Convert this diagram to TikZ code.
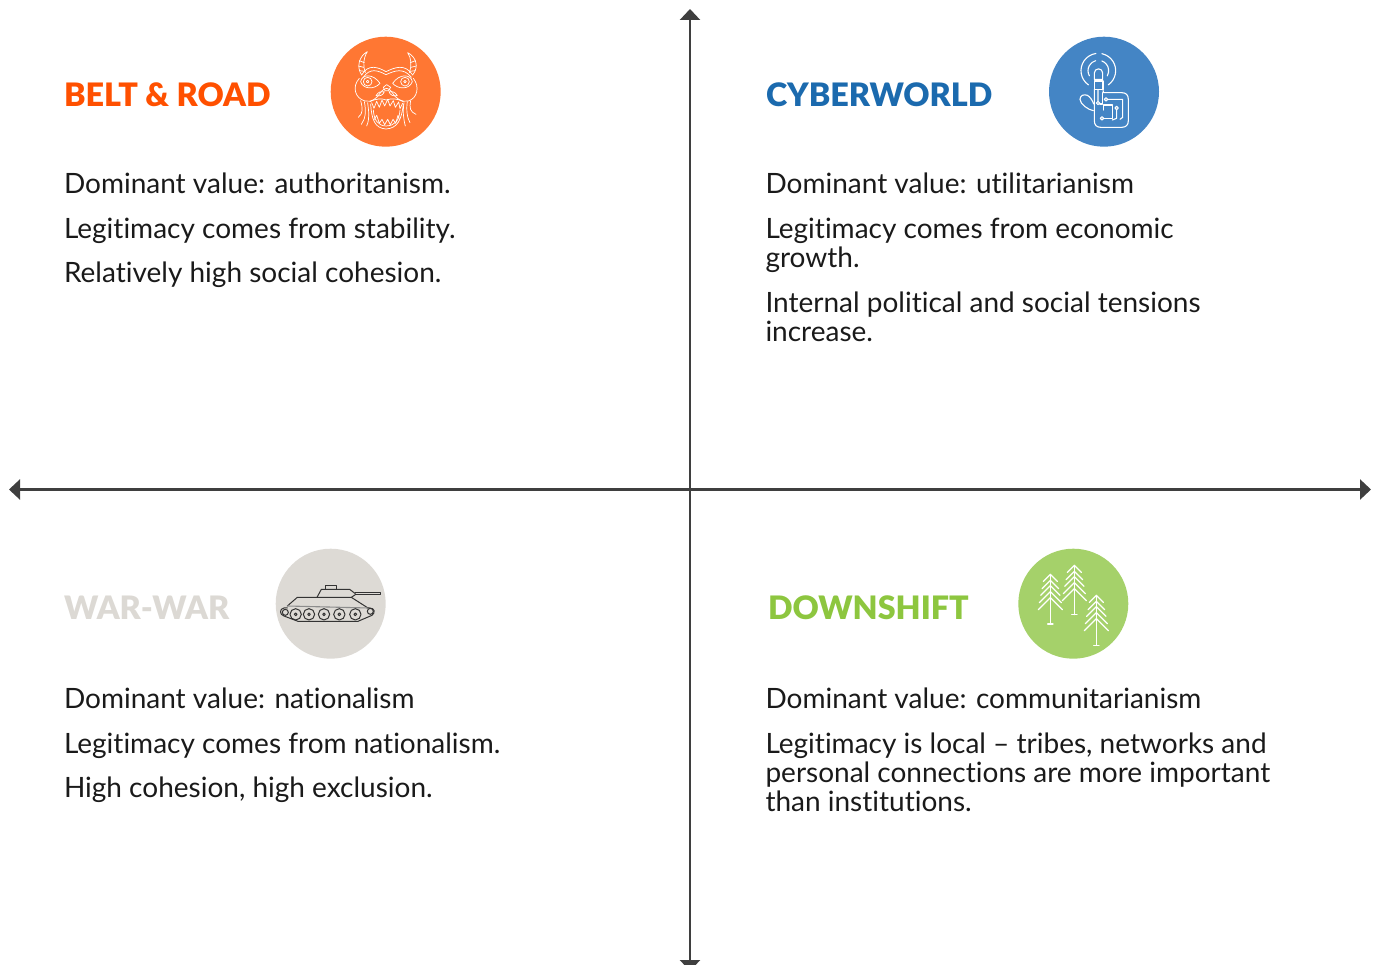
\documentclass[tikz,border=0pt]{standalone}
\usepackage{fontspec}
\setmainfont{Lato}[Ligatures=NoCommon]
\newfontfamily\titlefont{Lato Black}[Ligatures=NoCommon]
\usetikzlibrary{arrows.meta}
\definecolor{axiscol}{HTML}{3F3F3F}
\definecolor{bodycol}{HTML}{1A1A1A}
\definecolor{orangeT}{HTML}{FF5000}
\definecolor{orangeC}{HTML}{FF7733}
\definecolor{blueT}{HTML}{1B6AAE}
\definecolor{blueC}{HTML}{4485C5}
\definecolor{greyT}{HTML}{DCD9D4}
\definecolor{greyC}{HTML}{DDDAD5}
\definecolor{greenT}{HTML}{8DC63F}
\definecolor{greenC}{HTML}{A5D16A}
\tikzset{
  axisline/.style={draw=axiscol,line width=2.4pt,{Triangle[length=11pt,width=20pt]}-{Triangle[length=11pt,width=20pt]}},
  bodytext/.style={anchor=north west,inner sep=0pt,outer sep=0pt,align=left,text=bodycol,font=\fontsize{28}{29}\selectfont},
  titletext/.style={anchor=base west,inner sep=0pt,outer sep=0pt,font=\fontsize{32.3}{36}\titlefont},
  badge/.style={circle,minimum size=110pt,inner sep=0pt,outer sep=0pt,draw=none},
  icon/.style={x=0.3333pt,y=-0.3333pt,line cap=round,line join=round},
  iconw/.style={draw=white,line width=0.7pt,fill=none},
  iconb/.style={draw=white,line width=1.1pt,fill=none},
  icont/.style={draw=black!80,line width=1pt,fill=none},
}
\newcommand{\bt}{\rule[-7pt]{0pt}{28pt}}
\begin{document}
\begin{tikzpicture}[x=1pt,y=-1pt]
\useasboundingbox (0,0) rectangle (1373,965);
\clip (0,0) rectangle (1373,965);
\coordinate (top) at (690,9);
\coordinate (bottom) at (690,971);
\coordinate (left) at (9,489.5);
\coordinate (right) at (1371,489.5);
\draw[axisline] (top) -- (bottom);
\draw[axisline] (left) -- (right);

% titles
\node[titletext,text=orangeT] (t1) at (64,107) {BELT \& ROAD};
\node[titletext,text=blueT] (t2) at (766,107) {CYBERWORLD};
\node[titletext,text=greyT] (t3) at (64,619) {WAR-WAR};
\node[titletext,text=greenT] (t4) at (768,619) {DOWNSHIFT};

% badges
\node[badge,fill=orangeC] (c1) at (385.7,91.7) {};
\node[badge,fill=blueC] (c2) at (1104,91.7) {};
\node[badge,fill=greyC] (c3) at (330.7,603.7) {};
\node[badge,fill=greenC] (c4) at (1073.3,603.7) {};

% body text
\node[bodytext] (a1) at (64,173) {\bt Dominant value: authoritanism.};
\node[bodytext] (a2) at (64,218) {\bt Legitimacy comes from stability.};
\node[bodytext] (a3) at (64,262) {\bt Relatively high social cohesion.};
\node[bodytext] (b1) at (765.5,173) {\bt Dominant value: utilitarianism};
\node[bodytext] (b2) at (765.5,218) {\bt Legitimacy comes from economic\\\bt growth.};
\node[bodytext] (b3) at (765.5,292) {\bt Internal political and social tensions\\\bt increase.};
\node[bodytext] (d1) at (64,687) {\bt Dominant value: nationalism};
\node[bodytext] (d2) at (64,732) {\bt Legitimacy comes from nationalism.};
\node[bodytext] (d3) at (64,776) {\bt High cohesion, high exclusion.};
\node[bodytext] (e1) at (765.5,687) {\bt Dominant value: communitarianism};
\node[bodytext] (e2) at (765.5,732) {\bt Legitimacy is local -- tribes, networks and\\\bt personal connections are more important\\\bt than institutions.};

% dragon
\begin{scope}[shift={(320,30)},icon]
\draw[iconw] (142,65) .. controls (118,78) and (108,110) .. (125,135) (142,65) .. controls (130,85) and (128,105) .. (136,128);
\draw[iconw] (118,92)--(133,98) (115,108)--(131,112) (118,122)--(134,124);
\draw[iconw] (263,68) .. controls (288,80) and (298,110) .. (278,135) (263,68) .. controls (274,85) and (276,105) .. (268,128);
\draw[iconw] (286,92)--(271,98) (289,108)--(273,112) (286,122)--(270,124);
\draw[iconw] (125,135) .. controls (145,100) and (175,112) .. (198,125) .. controls (225,112) and (255,100) .. (278,135);
\draw[iconw] (130,142) .. controls (150,112) and (175,122) .. (198,134) .. controls (225,122) and (250,112) .. (274,142);
\draw[iconw] (143,155) circle[radius=13] (143,155) circle[radius=4];
\draw[iconw] (255,155) circle[radius=13] (255,155) circle[radius=4];
\draw[iconw] (122,155) .. controls (125,132) and (160,130) .. (180,160) .. controls (165,178) and (130,180) .. (122,155);
\draw[iconw] (277,155) .. controls (273,132) and (238,130) .. (218,160) .. controls (233,178) and (268,180) .. (277,155);
\draw[iconw] (118,145) .. controls (95,170) and (105,205) .. (135,213) .. controls (155,218) and (170,205) .. (180,190) .. controls (195,170) and (205,170) .. (218,190) .. controls (228,205) and (245,218) .. (265,213) .. controls (292,205) and (300,170) .. (280,145);
\draw[iconw] (190,172)--(200,164)--(212,172)--(205,182)--(195,182)--cycle;
\draw[iconw] (168,197) .. controls (175,185) and (185,183) .. (193,185) .. controls (190,195) and (180,200) .. (168,197);
\draw[iconw] (232,197) .. controls (225,185) and (215,183) .. (207,185) .. controls (210,195) and (220,200) .. (232,197);
\draw[iconw] (150,215) .. controls (170,205) and (185,205) .. (198,210) .. controls (215,205) and (232,205) .. (250,215);
\draw[iconw] (155,218)--(162,235)--(170,214)--(178,232)--(186,210)--(194,228)--(203,208)--(210,228)--(220,212)--(226,232)--(236,216)--(240,236)--(248,220);
\draw[iconw] (152,222) .. controls (155,270) and (165,295) .. (198,297) .. controls (232,295) and (245,270) .. (250,222);
\draw[iconw] (160,240) .. controls (162,272) and (175,287) .. (198,288) .. controls (225,287) and (238,272) .. (240,240);
\draw[iconw] (163,268)--(170,256)--(178,280)--(186,268)--(194,284)--(203,268)--(211,284)--(219,268)--(227,280)--(234,256)--(238,268);
\draw[iconw] (122,212) .. controls (128,235) and (130,250) .. (115,262);
\draw[iconw] (133,215) .. controls (138,240) and (138,265) .. (124,283);
\draw[iconw] (143,218) .. controls (146,245) and (150,265) .. (140,288);
\draw[iconw] (272,212) .. controls (268,235) and (270,245) .. (288,253);
\draw[iconw] (262,215) .. controls (258,240) and (262,265) .. (270,278);
\draw[iconw] (252,218) .. controls (248,245) and (250,265) .. (256,288);
\end{scope}

% cyber
\begin{scope}[shift={(1040,30)},icon]
\draw[iconb] (175,122) ++(125:52) arc[start angle=125,end angle=262,radius=52];
\draw[iconb] (175,122) ++(-78:52) arc[start angle=-78,end angle=55,radius=52];
\draw[iconb] (175,122) ++(150:31) arc[start angle=150,end angle=255,radius=31];
\draw[iconb] (175,122) ++(-70:31) arc[start angle=-70,end angle=30,radius=31];
\draw[iconb] (163,148)--(163,129) arc[start angle=180,end angle=360,radius=12.5]--(188,148)--cycle;
\draw[iconb] (163,153) rectangle (189,178);
\draw[iconb] (163,178)--(163,272) .. controls (163,285) and (170,292) .. (182,292) -- (245,292) .. controls (258,292) and (265,285) .. (265,272) -- (265,208) .. controls (265,195) and (258,188) .. (245,188) -- (190,188) -- (189,178);
\draw[iconb] (160,242) .. controls (145,240) and (120,222) .. (120,208) .. controls (120,196) and (132,192) .. (142,196) .. controls (150,200) and (158,212) .. (161,222);
\draw[iconb] (174,180)--(174,213) (174,219) circle[radius=5];
\draw[iconb] (188,188)--(188,222)--(179,222);
\draw[iconb] (198,208) circle[radius=5] (203,208)--(248,208)--(248,262)--(240,268);
\draw[iconb] (190,240)--(190,225)--(217,225)--(217,265)--(192,265);
\draw[iconb] (186,265) circle[radius=5];
\draw[iconb] (230,234) circle[radius=5] (230,239)--(230,265)--(217,270);
\end{scope}

% tank
\begin{scope}[shift={(268,542)},icon]
\draw[icont] (58,192)--(88,166)--(250,166)--(300,198);
\draw[draw=black!45,line width=1.1pt] (58,192)--(300,198);
\draw[icont] (147,166)--(160,142)--(245,142)--(262,155);
\draw[icont] (262,158)--(250,166);
\draw[icont] (172,142)--(172,132)--(207,132)--(207,142);
\draw[icont,fill=none] (262,152)--(338,152)--(338,158)--(262,158);
\draw[icont] (58,198)--(48,198) .. controls (34,200) and (34,218) .. (48,222) -- (90,238) -- (270,238) -- (312,220) .. controls (323,212) and (320,198) .. (305,198) -- (300,198);
\draw[icont] (52,211) circle[radius=9];
\draw[icont] (307,208) circle[radius=9];
\foreach \wx in {83,123,168,214,262}{
  \draw[icont] (\wx,217) circle[radius=17];
  \draw[icont] (\wx,217) circle[radius=4];
}
\end{scope}

% trees
\begin{scope}[shift={(1010,542)},icon]
\foreach \cx/\ay/\by in {121/97/246,193/70/218,259/160/310}{
  \draw[iconb,line width=1.2pt] (\cx,\ay)--(\cx,\by);
  \draw[iconb,line width=1.2pt] (\cx-8,\by)--(\cx+8,\by);
  \draw[iconb,line width=1.2pt] (\cx-21,\ay+21)--(\cx,\ay)--(\cx+21,\ay+21);
  \draw[iconb,line width=1.2pt] (\cx-25,\ay+43)--(\cx,\ay+18)--(\cx+25,\ay+43);
  \draw[iconb,line width=1.2pt] (\cx-29,\ay+63)--(\cx,\ay+34)--(\cx+29,\ay+63);
  \draw[iconb,line width=1.2pt] (\cx-33,\ay+85)--(\cx,\ay+52)--(\cx+33,\ay+85);
  \draw[iconb,line width=1.2pt] (\cx-36,\ay+106)--(\cx,\ay+70)--(\cx+36,\ay+106);
}
\end{scope}
\end{tikzpicture}
\end{document}
